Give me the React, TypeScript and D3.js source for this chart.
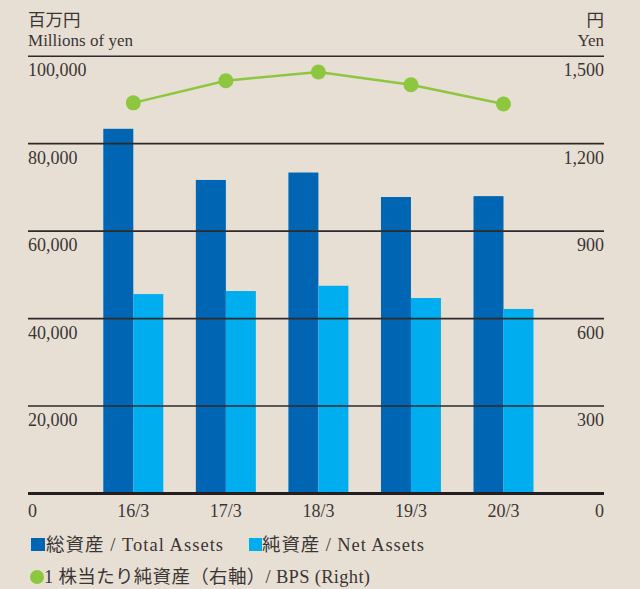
import React from "react";
import * as d3 from "d3";

const categories = ["16/3", "17/3", "18/3", "19/3", "20/3"];
const totalAssets = [83400, 71700, 73400, 67800, 68000];
const netAssets = [45600, 46300, 47500, 44700, 42200];
const bps = [1340, 1416, 1446, 1402, 1336];
const leftTicks = [20000, 40000, 60000, 80000, 100000];
const rightTicks = [300, 600, 900, 1200, 1500];

const W = 640;
const H = 589;
const X0 = 28;
const X1 = 604;
const Y0 = 493.5;
const YTOP = 56.2;
const BAR_W = 30;

const C_TOTAL = "#0066b3";
const C_NET = "#00aeef";
const C_BPS = "#8dc63f";
const C_TEXT = "#3a3634";
const C_LINE = "#2f2a28";
const BG = "#e8dfd4";
const FONT = "'Liberation Serif', 'Noto Sans CJK JP', serif";
const TICK_FS = 18;

export default function App() {
  const x = d3.scalePoint<string>().domain(categories).range([133.3, 503.5]);
  const y = d3.scaleLinear().domain([0, 100000]).range([Y0, YTOP]);
  const yR = d3.scaleLinear().domain([0, 1500]).range([Y0, YTOP]);
  const fmt = d3.format(",");
  const line = d3
    .line<number>()
    .x((_, i) => x(categories[i]) as number)
    .y((d) => yR(d));

  return (
    <svg
      width={W}
      height={H}
      style={{ position: "absolute", left: 0, top: 0, display: "block" }}
      fontFamily={FONT}
    >
      <rect x={0} y={0} width={W} height={H} fill={BG} />
      {/* header */}
      <text x={X0} y={26} fontSize={17.5} fill={C_TEXT}>百万円</text>
      <text x={X0} y={46} fontSize={17} fill={C_TEXT} textLength={105} lengthAdjust="spacing">Millions of yen</text>
      <text x={X1} y={26} fontSize={17.5} fill={C_TEXT} textAnchor="end">円</text>
      <text x={X1} y={46} fontSize={17} fill={C_TEXT} textAnchor="end">Yen</text>

      {/* bars */}
      {categories.map((c, i) => (
        <g key={c}>
          <rect
            x={(x(c) as number) - BAR_W}
            y={y(totalAssets[i])}
            width={BAR_W}
            height={Y0 - y(totalAssets[i])}
            fill={C_TOTAL}
          />
          <rect
            x={x(c) as number}
            y={y(netAssets[i])}
            width={BAR_W}
            height={Y0 - y(netAssets[i])}
            fill={C_NET}
          />
        </g>
      ))}

      {/* gridlines */}
      {leftTicks.map((t) => (
        <line key={t} x1={X0} x2={X1} y1={y(t)} y2={y(t)} stroke={C_LINE} strokeWidth={1.6} />
      ))}
      <line x1={X0} x2={X1} y1={Y0} y2={Y0} stroke="#231f20" strokeWidth={3} />

      {/* tick labels */}
      {leftTicks.map((t) => (
        <text key={t} x={X0} y={y(t) + 20} fontSize={TICK_FS} fill={C_TEXT}>
          {fmt(t)}
        </text>
      ))}
      {rightTicks.map((t) => (
        <text key={t} x={X1} y={yR(t) + 20} fontSize={TICK_FS} fill={C_TEXT} textAnchor="end">
          {fmt(t)}
        </text>
      ))}
      <text x={X0} y={517} fontSize={TICK_FS} fill={C_TEXT}>0</text>
      <text x={X1} y={517} fontSize={TICK_FS} fill={C_TEXT} textAnchor="end">0</text>
      {categories.map((c) => (
        <text key={c} x={x(c)} y={517} fontSize={TICK_FS} fill={C_TEXT} textAnchor="middle">
          {c}
        </text>
      ))}

      {/* BPS line */}
      <path d={line(bps) || ""} fill="none" stroke={C_BPS} strokeWidth={2.5} />
      {bps.map((v, i) => (
        <circle key={i} cx={x(categories[i])} cy={yR(v)} r={7.5} fill={C_BPS} />
      ))}

      {/* legend */}
      <rect x={31} y={538} width={14} height={13} fill={C_TOTAL} />
      <text x={46} y={551} fontSize={18.5} fill={C_TEXT} textLength={177} lengthAdjust="spacing">
        総資産 / Total Assets
      </text>
      <rect x={249} y={538} width={13} height={13} fill={C_NET} />
      <text x={262} y={551} fontSize={18.5} fill={C_TEXT} textLength={162} lengthAdjust="spacing">
        純資産 / Net Assets
      </text>
      <circle cx={37} cy={577} r={7} fill={C_BPS} />
      <text x={44} y={583} fontSize={18.5} fill={C_TEXT} textLength={326} lengthAdjust="spacing">
        1 株当たり純資産（右軸）/ BPS (Right)
      </text>
    </svg>
  );
}
